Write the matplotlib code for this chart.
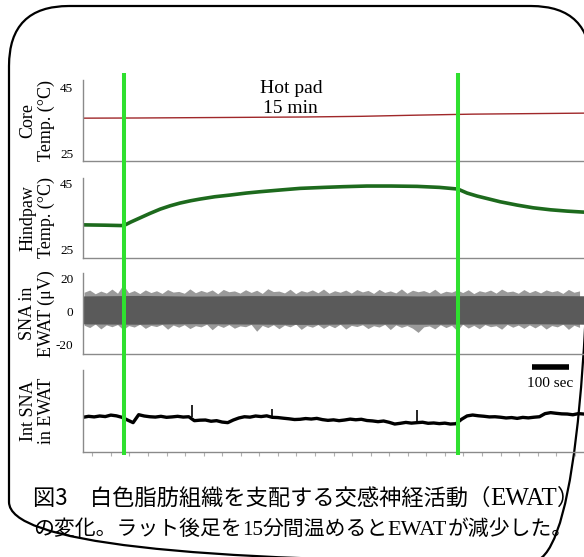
import matplotlib
matplotlib.use('Agg')
import matplotlib.pyplot as plt
import numpy as np
from matplotlib.patches import FancyBboxPatch

plt.rcParams['font.family'] = ['Liberation Serif', 'Noto Sans CJK JP']
plt.rcParams['axes.unicode_minus'] = False

W, H = 584, 557

# recording time in seconds, heating pad on for 15 min
heat_on = 110
heat_off = 1010
t_end = 1350

# core temperature (deg C)
core_t = [0, 150, 300, 450, 600, 750, 900, 1050, 1200, 1350]
core_temp = [35.7, 35.75, 35.85, 35.95, 36.05, 36.25, 36.6, 36.9, 37.05, 37.2]

# hindpaw temperature (deg C)
paw_t = [0, 60, 100, 110, 130, 154, 180, 208, 235, 261, 290, 315, 355, 396, 440,
         477, 530, 585, 650, 700, 765, 830, 900, 960, 1010, 1035, 1062, 1095, 1124,
         1170, 1213, 1260, 1305, 1350]
paw_temp = [32.5, 32.4, 32.3, 32.3, 33.4, 34.6, 35.9, 37.2, 38.2, 39.0, 39.7, 40.2,
            40.9, 41.4, 42.0, 42.4, 42.9, 43.4, 43.7, 43.9, 44.1, 44.1, 44.0, 43.7,
            43.2, 42.0, 41.1, 40.2, 39.4, 38.4, 37.6, 37.0, 36.6, 36.3]

# raw SNA: dense core of the signal (uV), every 150 s
band_t = [0, 150, 300, 450, 600, 750, 900, 1050, 1200, 1350]
band_hi = [9.3, 9.6, 9.2, 9.5, 9.4, 9.7, 9.3, 9.5, 9.6, 9.4]
band_lo = [-7.4, -7.6, -7.3, -7.5, -7.7, -7.4, -7.6, -7.5, -7.3, -7.6]

# raw SNA: extent of the larger excursions (uV), every 15 s
sna_t = np.arange(3, 1351, 15)
sna_hi = [11.5, 12.8, 10.6, 12.2, 11.0, 13.4, 10.9, 16.0, 11.2, 12.5,
          10.7, 12.9, 11.3, 12.4, 10.8, 13.1, 11.6, 12.0, 10.9, 13.5,
          11.2, 12.6, 11.5, 12.9, 10.6, 13.2, 11.8, 12.3, 11.0, 13.0,
          11.4, 12.7, 10.8, 13.6, 11.9, 12.2, 11.1, 13.3, 10.7, 12.5,
          11.6, 12.9, 11.2, 13.4, 10.9, 12.4, 11.5, 12.8, 11.0, 13.1,
          11.7, 12.6, 10.8, 13.2, 11.4, 12.3, 11.1, 13.5, 10.9, 12.7,
          11.8, 12.5, 11.2, 13.3, 10.8, 12.1, 11.5, 12.9, 11.3, 13.0,
          10.7, 12.4, 11.6, 12.8, 11.0, 13.4, 11.7, 12.2, 10.9, 13.1,
          11.3, 12.6, 11.1, 12.9, 11.8, 12.5, 10.8, 13.2, 11.5, 12.3]
sna_lo = [-8.2, -9.6, -7.5, -10.4, -8.0, -9.1, -7.8, -10.8, -8.4, -9.3,
          -7.6, -10.1, -8.3, -9.0, -7.7, -10.6, -8.1, -9.4, -7.9, -10.2,
          -8.5, -9.2, -7.6, -10.9, -8.2, -9.5, -7.8, -10.0, -8.6, -9.1,
          -7.7, -11.8, -8.3, -9.6, -7.9, -10.3, -8.1, -9.2, -7.5, -10.7,
          -8.4, -9.4, -7.8, -10.1, -8.2, -9.7, -7.6, -10.5, -8.3, -9.0,
          -7.9, -10.2, -8.5, -9.3, -7.7, -10.8, -8.0, -9.5, -8.4, -10.0,
          -12.5, -9.2, -8.6, -10.4, -7.9, -9.6, -8.2, -11.5, -7.6, -9.9,
          -8.3, -10.3, -7.8, -9.1, -8.5, -10.6, -7.7, -9.4, -8.1, -10.1,
          -8.0, -9.8, -7.9, -10.5, -8.4, -9.2, -7.6, -10.7, -8.2, -9.5]

# integrated SNA (arbitrary units), every 15 s
int_t = np.arange(0, 1351, 15)
int_sna = [42.3, 43.5, 42.8, 43.9, 43.2, 45.0, 44.1, 42.3, 39.0, 35.8,
           45.5, 43.9, 43.0, 42.6, 43.5, 42.3, 42.8, 43.5, 42.6, 43.0,
           38.2, 38.8, 39.0, 37.5, 38.2, 36.5, 35.8, 39.0, 41.5, 43.0,
           42.5, 43.9, 43.2, 44.1, 42.3, 42.0, 41.2, 40.5, 39.6, 39.9,
           40.8, 40.2, 41.0, 39.5, 38.6, 39.2, 38.2, 39.0, 40.1, 39.3,
           39.9, 38.4, 37.9, 37.0, 37.8, 36.2, 34.1, 35.0, 36.1, 35.2,
           35.8, 36.3, 35.0, 35.4, 34.6, 35.2, 34.1, 34.5, 39.9, 44.0,
           45.1, 44.2, 43.6, 42.8, 43.0, 42.4, 41.5, 42.0, 41.0, 42.2,
           41.6, 42.4, 43.0, 46.8, 48.0, 47.2, 46.5, 46.3, 45.4, 46.8,
           46.3]
spike_t = [113, 293, 509, 901]
spike_base = [42.0, 42.8, 42.3, 35.8]
spike_top = [55.0, 57.3, 52.4, 51.2]

scale_bar_start = 1210
scale_bar_len = 100

fig = plt.figure(figsize=(W / 100, H / 100), dpi=100)


def px_axes(left, top, right, bottom):
    return fig.add_axes([left / W, 1 - bottom / H, (right - left) / W, (bottom - top) / H])


# frame with rounded corners
bg = fig.add_axes([0, 0, 1, 1])
bg.set_xlim(0, W)
bg.set_ylim(H, 0)
bg.axis('off')
bg.add_patch(FancyBboxPatch((9, 6), 582, 556, boxstyle='round,pad=0,rounding_size=60',
                            fill=False, ec='black', lw=1.6))

spine_col = '#8a8a8a'


def style(ax, label, ylim, yticks):
    ax.set_xlim(0, t_end)
    ax.set_ylim(*ylim)
    ax.patch.set_alpha(0)
    for s in ['top', 'right']:
        ax.spines[s].set_visible(False)
    for s in ['left', 'bottom']:
        ax.spines[s].set_color(spine_col)
        ax.spines[s].set_linewidth(1.0)
    ax.set_yticks(yticks)
    ax.tick_params(axis='y', length=0, pad=7, labelsize=9.5)
    ax.set_xticks([])
    ax.set_ylabel(label, fontsize=13, linespacing=1.1)
    ax.yaxis.set_label_coords(-0.056, 0.5)


ax1 = px_axes(83, 80, 584, 161)
ax1.plot(core_t, core_temp, color='#a0282a', lw=1.0)
style(ax1, 'Core\nTemp. (°C)', (22.9, 47.1), [25, 45])
ax1.text((heat_on + heat_off) / 2, 0.77, 'Hot pad\n15 min', ha='center', va='center',
         fontsize=14, linespacing=1.2, transform=ax1.get_xaxis_transform())

ax2 = px_axes(83, 178, 584, 258)
ax2.plot(paw_t, paw_temp, color='#1d6a1d', lw=2.6)
style(ax2, 'Hindpaw\nTemp. (°C)', (22.6, 46.5), [25, 45])

ax3 = px_axes(83, 273, 584, 354)
ax3.fill_between(sna_t, sna_lo, sna_hi, color='#9a9a9a', lw=0)
ax3.fill_between(band_t, band_lo, band_hi, color='#5a5a5a', lw=0)
style(ax3, 'SNA in\nEWAT (μV)', (-25.4, 23.0), [-20, 0, 20])

ax4 = px_axes(83, 370, 584, 452)
ax4.plot(int_t, int_sna, color='black', lw=2.4)
ax4.vlines(spike_t, spike_base, spike_top, color='black', lw=1.2)
style(ax4, 'Int SNA\nin EWAT', (0, 100), [])
ax4.set_xticks(np.arange(25, t_end, 50))
ax4.set_xticklabels([])
ax4.tick_params(axis='x', length=3, color='#b0b0b0', direction='out')
ax4.plot([scale_bar_start, scale_bar_start + scale_bar_len], [1.04, 1.04], color='black',
         lw=4, solid_capstyle='butt', transform=ax4.get_xaxis_transform(), clip_on=False)
ax4.text(scale_bar_start + scale_bar_len / 2, 0.83, '100 sec', ha='center', va='center',
         fontsize=11, transform=ax4.get_xaxis_transform())

# heating on/off markers across all panels
axg = px_axes(83, 73, 584, 455)
axg.set_xlim(0, t_end)
axg.axis('off')
for t in [heat_on, heat_off]:
    axg.axvline(t, color='#2fe02f', lw=2.9)

# caption: Japanese in gothic, latin letters and digits in serif
jp = 'Noto Sans CJK JP'
serif = 'Liberation Serif'
renderer = fig.canvas.get_renderer()


def caption_line(x, y, parts):
    for s, fam, size in parts:
        t = bg.text(x, y, s, family=fam, fontsize=size, va='baseline')
        x += t.get_window_extent(renderer=renderer).width


caption_line(33, 505, [('図3\u3000白色脂肪組織を支配する交感神経活動（', jp, 16),
                       ('EWAT', serif, 18), ('）', jp, 16)])
caption_line(33, 535, [('の変化。ラット後足を', jp, 15), ('15', serif, 15),
                       ('分間温めると', jp, 15), ('EWAT', serif, 16),
                       ('が減少した。', jp, 15)])

fig.savefig('out.png', dpi=100)
